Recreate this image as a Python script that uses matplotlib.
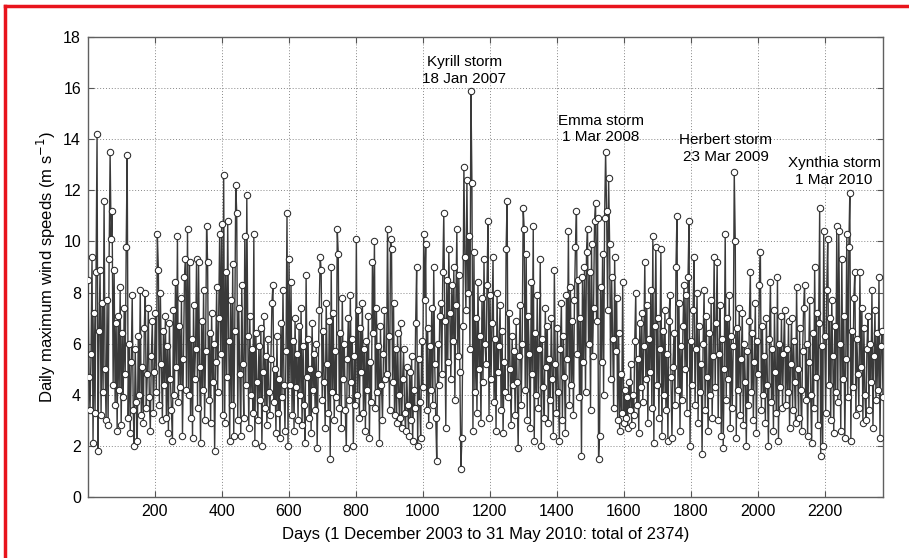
import numpy as np
import matplotlib
matplotlib.use("Agg")
import matplotlib.pyplot as plt
from matplotlib.lines import Line2D

# Daily maximum wind speed (m/s) (every ~3rd day), in 8 consecutive parts
wind_part1 = [8.5, 4.7, 3.4, 5.6, 9.4, 2.1, 7.2, 3.3, 8.8, 14.2, 1.8, 6.5, 8.9, 3.2, 7.6, 4.1, 11.6, 5.0, 3.0, 7.7,
              2.8, 9.3, 13.5, 10.1, 11.2, 4.4, 8.9, 3.6, 6.8, 2.6, 7.1, 4.2, 8.2, 2.8, 6.4, 3.9, 7.4, 4.8, 9.8, 13.4,
              3.1, 6.0, 2.5, 5.3, 7.9, 3.4, 2.0, 5.8, 3.7, 2.2, 6.3, 4.0, 8.1, 3.2, 5.1, 2.9, 6.6, 8.0, 3.5, 4.8,
              7.4, 3.9, 2.6, 5.5, 6.9, 3.3, 4.9, 7.2, 4.1, 10.3, 8.9, 3.6, 8.0, 5.2, 3.0, 6.5, 4.4, 7.1, 3.1, 5.9,
              2.5, 6.8, 4.6, 3.4, 2.2, 7.3, 4.0, 8.4, 5.1, 10.2, 3.7, 6.7, 4.3, 7.8, 2.4, 5.4, 8.6, 9.3, 4.2]
wind_part2 = [10.5, 4.0, 9.2, 3.1, 6.2, 2.3, 7.5, 4.6, 5.8, 9.3, 3.5, 9.2, 5.1, 2.1, 6.9, 4.2, 8.1, 3.0, 5.7, 10.6,
              9.2, 3.8, 6.4, 2.9, 7.2, 4.5, 6.0, 1.8, 5.3, 8.2, 4.1, 7.0, 10.3, 5.6, 10.7, 3.2, 12.6, 2.9, 8.8, 4.7,
              10.8, 6.1, 2.2, 7.7, 3.6, 9.1, 2.4, 6.5, 12.2, 11.1, 3.0, 7.4, 4.8, 2.4, 8.3, 5.2, 3.1, 10.2, 4.4, 11.8,
              6.3, 2.7, 7.1, 4.0, 5.8, 3.3, 10.3, 2.1, 6.4, 4.5, 3.0, 5.9, 3.8, 6.6, 2.0, 4.9, 7.1, 3.5, 5.5, 2.8,
              6.2, 4.1, 3.2, 5.4, 7.6, 8.3, 3.7, 5.0, 2.5, 6.3, 3.3, 4.6, 2.3, 6.8, 3.9, 8.1, 4.4, 2.6, 5.7]
wind_part3 = [11.1, 2.0, 9.3, 4.4, 8.4, 3.2, 6.1, 2.6, 7.0, 4.3, 5.6, 3.0, 6.7, 4.0, 7.4, 2.8, 5.9, 3.6, 2.1, 8.7,
              4.7, 6.2, 3.1, 5.0, 2.5, 6.8, 4.2, 5.6, 3.4, 6.0, 1.9, 4.8, 7.3, 9.4, 8.9, 3.8, 6.5, 4.5, 2.7, 7.6,
              5.2, 3.3, 6.9, 1.5, 9.0, 4.1, 7.2, 3.0, 5.7, 3.9, 10.5, 9.5, 3.5, 6.4, 2.7, 7.8, 4.6, 6.0, 3.4, 1.9,
              5.4, 7.0, 3.8, 7.9, 4.5, 6.2, 2.0, 5.5, 3.6, 10.1, 4.0, 7.3, 3.1, 6.6, 4.9, 7.6, 3.3, 5.8, 2.6, 6.1,
              4.2, 7.1, 2.3, 5.3, 3.7, 9.2, 6.4, 10.0, 3.5, 7.4, 4.1, 5.9, 2.1, 6.7, 4.4, 3.0, 5.6, 7.3, 4.6]
wind_part4 = [4.8, 10.5, 6.3, 3.4, 10.1, 9.7, 4.5, 7.6, 3.2, 5.8, 2.9, 6.4, 4.0, 3.1, 6.8, 2.7, 4.6, 5.8, 3.3, 2.6,
              5.1, 3.6, 2.4, 4.9, 3.0, 5.5, 2.2, 4.2, 3.5, 6.8, 9.0, 2.0, 5.4, 3.7, 2.3, 6.1, 4.3, 10.3, 7.7, 9.9,
              3.4, 6.6, 2.8, 5.9, 4.2, 7.4, 3.6, 9.0, 5.2, 3.1, 1.4, 6.0, 4.4, 7.1, 7.6, 4.8, 8.8, 11.1, 6.9, 2.7,
              8.5, 5.3, 9.7, 7.2, 4.6, 8.3, 6.1, 9.0, 3.8, 7.5, 10.5, 5.5, 8.7, 4.9, 1.1, 2.3, 6.7, 12.9, 9.4, 7.3,
              12.4, 8.0, 10.2, 5.8, 15.9, 12.3, 2.6, 9.6, 4.1, 7.0, 3.3, 8.4, 5.0, 6.3, 2.9, 7.8, 4.5, 9.3, 6.0]
wind_part5 = [5.2, 8.3, 10.8, 3.1, 7.9, 4.6, 6.8, 9.4, 3.7, 6.2, 2.6, 8.0, 4.9, 5.9, 7.5, 3.4, 6.5, 2.5, 5.3, 4.1,
              9.7, 11.6, 3.9, 7.2, 5.0, 2.8, 6.3, 4.4, 5.7, 3.2, 6.9, 4.5, 1.9, 5.5, 7.5, 3.6, 6.0, 11.3, 10.5, 4.2,
              9.5, 3.0, 7.1, 5.6, 2.7, 8.4, 4.8, 10.6, 2.2, 6.4, 4.0, 7.9, 3.5, 5.8, 9.3, 2.0, 6.2, 4.3, 3.1, 7.4,
              5.1, 6.7, 2.9, 5.4, 3.8, 7.0, 4.6, 2.4, 8.9, 5.2, 3.3, 6.6, 4.1, 2.2, 5.8, 7.6, 3.0, 6.3, 4.7, 2.5,
              7.9, 5.4, 10.4, 3.6, 8.2, 4.4, 6.9, 3.2, 7.7, 9.8, 11.2, 5.6, 8.5, 3.9, 7.0, 1.6, 8.6, 5.3, 9.0]
wind_part6 = [4.1, 9.6, 10.5, 6.0, 8.8, 3.4, 9.9, 5.5, 7.4, 10.8, 11.5, 6.9, 10.9, 1.5, 2.4, 8.2, 5.3, 9.5, 4.0, 10.9,
              13.5, 11.2, 7.3, 12.5, 9.9, 4.6, 8.6, 6.2, 3.5, 9.4, 5.7, 7.8, 3.0, 6.4, 2.6, 4.8, 3.3, 8.4, 2.9, 4.2,
              3.1, 3.9, 2.7, 4.5, 3.4, 5.2, 2.8, 4.0, 3.2, 6.1, 8.0, 3.6, 5.4, 2.5, 6.8, 4.3, 7.2, 3.7, 5.9, 9.2,
              4.6, 7.5, 2.9, 6.2, 4.9, 8.1, 3.5, 10.2, 2.1, 6.7, 9.8, 4.4, 7.0, 3.1, 5.8, 9.7, 2.4, 6.5, 4.0, 7.3,
              3.4, 5.6, 2.2, 6.9, 7.9, 4.7, 2.3, 5.1, 6.4, 3.6, 9.0, 11.0, 4.2, 7.6, 2.6, 5.9, 3.8, 6.7, 8.3]
wind_part7 = [5.0, 7.9, 3.3, 8.6, 10.8, 2.0, 6.1, 4.4, 7.3, 9.4, 3.6, 5.8, 8.0, 2.9, 6.7, 4.1, 5.2, 1.7, 6.0, 8.1,
              3.4, 7.1, 4.7, 2.6, 6.4, 4.0, 7.7, 3.1, 5.5, 9.4, 4.3, 6.8, 9.2, 3.0, 5.6, 7.5, 2.4, 6.2, 1.9, 5.0,
              10.3, 3.8, 7.0, 4.6, 7.9, 2.7, 6.3, 3.5, 5.9, 12.7, 10.0, 2.3, 6.6, 4.2, 7.4, 3.2, 5.4, 7.2, 2.8, 6.0,
              4.5, 2.0, 5.7, 3.6, 6.9, 8.8, 4.1, 6.4, 3.0, 5.3, 7.6, 2.5, 6.1, 4.8, 8.3, 9.6, 3.4, 6.7, 4.0, 5.5,
              2.9, 7.0, 4.4, 2.0, 6.2, 8.4, 3.7, 5.8, 2.6, 7.3, 4.9, 3.3, 8.6, 2.2, 6.0, 4.3, 7.1, 3.5, 5.6]
wind_part8 = [7.3, 3.6, 5.8, 4.1, 6.9, 2.7, 5.2, 7.0, 3.4, 6.1, 4.5, 2.9, 8.2, 5.0, 3.1, 6.6, 4.2, 2.6, 5.7, 7.4,
              8.3, 3.8, 6.0, 2.4, 5.3, 7.7, 4.0, 2.1, 6.4, 3.5, 9.0, 4.7, 7.2, 2.8, 6.8, 11.3, 1.6, 5.9, 2.0, 10.4,
              6.3, 3.3, 8.1, 10.1, 4.4, 7.0, 3.0, 7.7, 5.5, 2.5, 6.7, 4.1, 10.6, 3.7, 10.4, 6.0, 2.6, 9.3, 4.6, 7.1,
              2.3, 5.4, 10.3, 3.9, 9.8, 11.9, 2.2, 6.5, 4.3, 7.8, 8.8, 3.2, 6.2, 4.8, 3.5, 8.8, 5.1, 7.4, 2.9, 6.6,
              4.0, 3.0, 5.8, 7.1, 3.4, 6.0, 4.5, 8.1, 2.7, 5.5, 7.3, 3.8, 6.4, 4.2, 8.6, 2.3, 5.9, 6.5, 3.9]

total_days = 2374
x_ticks = [200, 400, 600, 800, 1000, 1200, 1400, 1600, 1800, 2000, 2200]
y_ticks = [0, 2, 4, 6, 8, 10, 12, 14, 16, 18]

storm_labels = ["Kyrill storm\n18 Jan 2007", "Emma storm\n1 Mar 2008",
                "Herbert storm\n23 Mar 2009", "Xynthia storm\n1 Mar 2010"]
storm_label_x = [1124, 1532, 1905, 2228]
storm_label_y = [16.7, 14.4, 13.65, 12.75]

wind = np.array(wind_part1 + wind_part2 + wind_part3 + wind_part4 +
                wind_part5 + wind_part6 + wind_part7 + wind_part8)
days = np.linspace(1, total_days, len(wind))

plt.rcParams['font.family'] = ['Liberation Sans Narrow', 'Liberation Sans', 'DejaVu Sans']

fig = plt.figure(figsize=(9.09, 5.58), dpi=100)
ax = fig.add_axes([88/909, 1 - 497/558, (883 - 88)/909, (497 - 37)/558])

ax.plot(days, wind, color='#3a3a3a', lw=1.0, marker='o', ms=4.6,
        mfc='white', mec='#2a2a2a', mew=0.75, zorder=3)

ax.set_xlim(1, total_days)
ax.set_ylim(0, 18)
ax.set_xticks(x_ticks)
ax.set_yticks(y_ticks)
ax.tick_params(direction='in', top=True, right=True, length=4, width=0.8,
               color='#555555', labelsize=11.5, pad=5)
ax.grid(True, linestyle=(0, (1, 2)), color='#888888', lw=0.7, zorder=0)
for s in ax.spines.values():
    s.set_color('#606060')
    s.set_linewidth(1.0)

ax.set_xlabel("Days (1 December 2003 to 31 May 2010: total of 2374)", fontsize=12, labelpad=6)
ax.set_ylabel("Daily maximum wind speeds (m s$^{-1}$)", fontsize=12, labelpad=4)

for lab, lx, ly in zip(storm_labels, storm_label_x, storm_label_y):
    ax.text(lx, ly, lab, ha='center', va='center', fontsize=11,
            family=['Liberation Sans', 'DejaVu Sans'], linespacing=1.25, zorder=5)

# red frame (top and left edges)
fig.add_artist(Line2D([5/909, 1], [1 - 6/558, 1 - 6/558], color='#e8141c', lw=2.5,
                      transform=fig.transFigure))
fig.add_artist(Line2D([5/909, 5/909], [0, 1 - 6/558], color='#e8141c', lw=2.5,
                      transform=fig.transFigure))

fig.savefig("out.png", dpi=100, facecolor='white')
